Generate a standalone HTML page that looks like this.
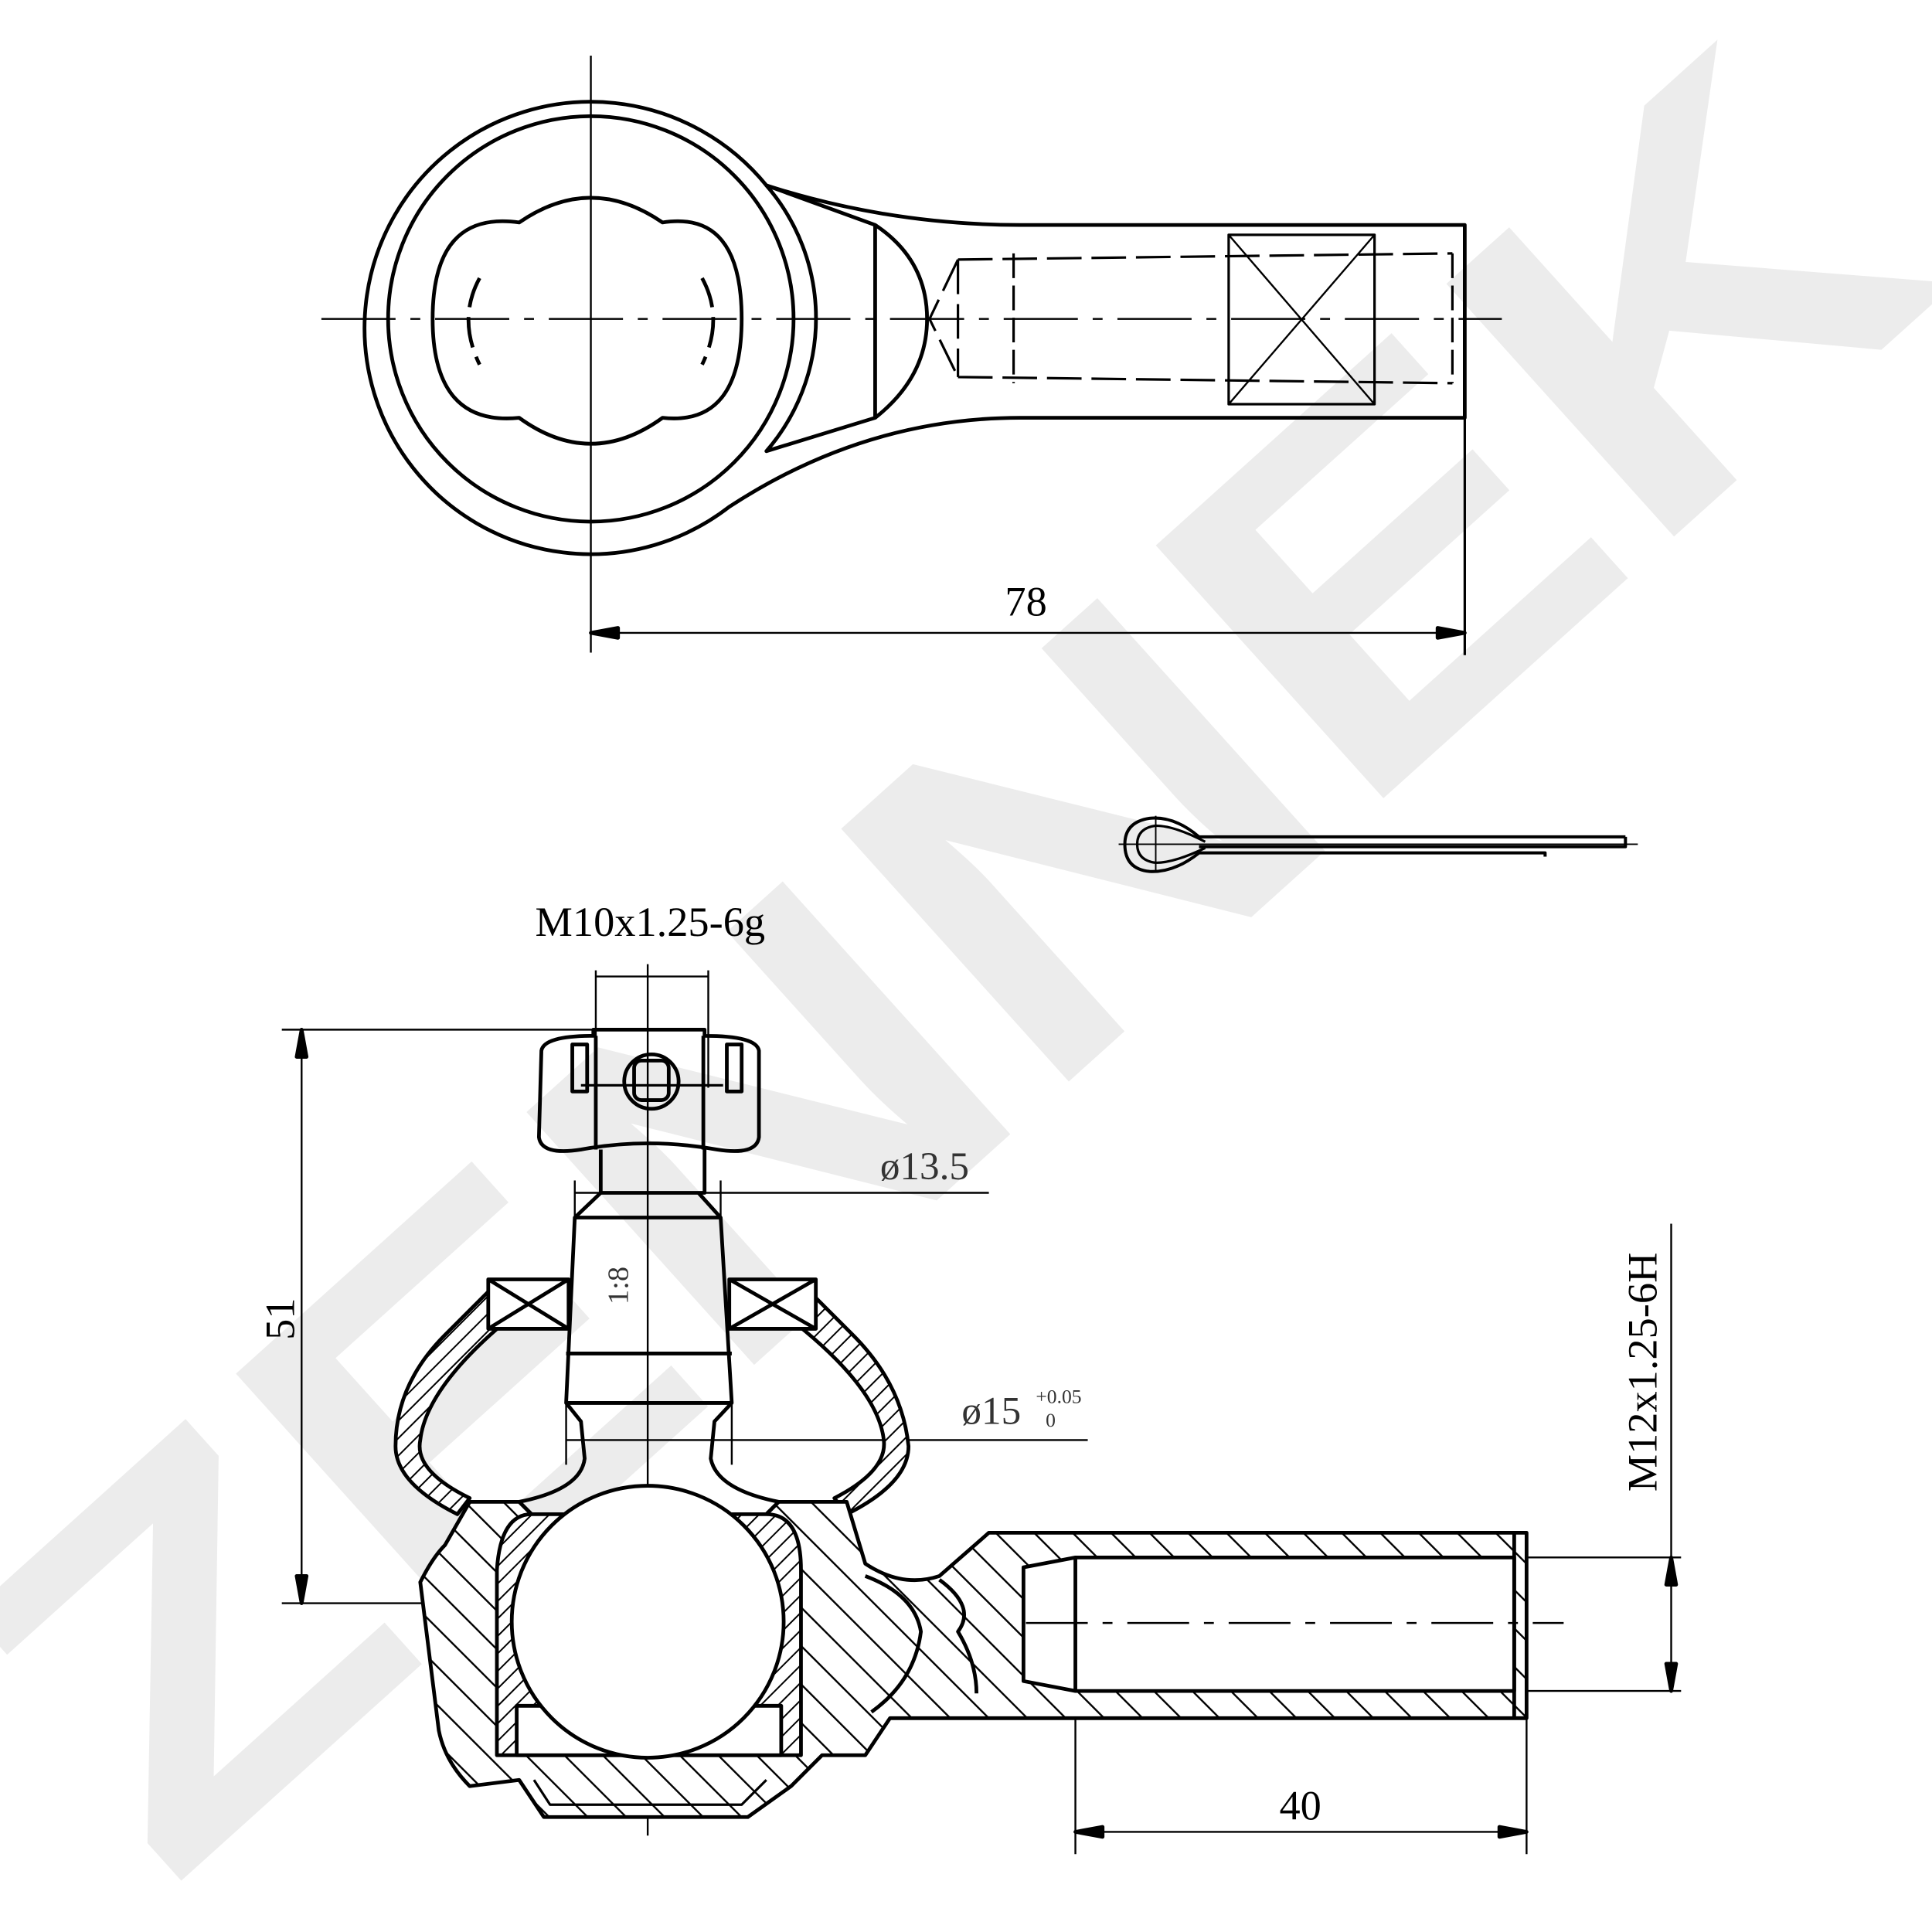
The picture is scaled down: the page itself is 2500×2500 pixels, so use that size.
<!DOCTYPE html>
<html><head><meta charset="utf-8"><style>html,body{margin:0;padding:0;background:#fff}svg{display:block}</style></head>
<body>
<svg width="2500" height="2500" viewBox="0 0 1563 1563" xmlns="http://www.w3.org/2000/svg">
<defs>
<pattern id="h" width="22" height="22" patternUnits="userSpaceOnUse" patternTransform="rotate(-45)">
<rect width="22" height="22" fill="#fff"/><line x1="0" y1="0" x2="0" y2="22" stroke="#000" stroke-width="3"/></pattern>
<pattern id="h2" width="10" height="10" patternUnits="userSpaceOnUse" patternTransform="rotate(45)">
<rect width="10" height="10" fill="#fff"/><line x1="0" y1="0" x2="0" y2="10" stroke="#000" stroke-width="2.5"/></pattern>
</defs>
<rect width="1563" height="1563" fill="#fff"/>
<text x="0" y="0" transform="translate(790,800) rotate(-42)" text-anchor="middle" dominant-baseline="middle" font-family="Liberation Sans, sans-serif" font-weight="bold" font-size="400" fill="#ececec" textLength="1950" lengthAdjust="spacingAndGlyphs">ZENNEK</text>

<g fill="none" stroke="#000" stroke-width="3" stroke-linejoin="round">
<line x1="478" y1="45" x2="478" y2="528" stroke-width="1.5"/>
<line x1="260" y1="258" x2="1215" y2="258" stroke-width="1.5" stroke-dasharray="60,12,8,12"/>
<path d="M590 410 A183 183 0 1 1 620 150 Q720 182 825 182 L1185 182 L1185 338 L825 338 Q700 338 590 410 Z"/>
<circle cx="478" cy="258" r="164"/>
<path d="M620 150 L708 182 L708 338 L620 365 A164 164 0 0 0 620 150 Z"/>
<path d="M708 182 Q750 210 750 258 Q750 305 708 338"/>
<path d="M420 180 Q478 140 536 180 Q600 170 600 258 Q600 345 536 338 Q478 380 420 338 Q350 345 350 258 Q350 170 420 180 Z"/>
<path d="M388 225 Q370 258 388 295" stroke-dasharray="25,8"/>
<path d="M568 225 Q586 258 568 295" stroke-dasharray="25,8"/>
<path d="M775 210 L1175 205 M775 305 L1175 310 M775 210 L752 258 L775 305 M775 210 L775 305" stroke-dasharray="28,8" stroke-width="2"/>
<path d="M820 205 L820 310 M1175 205 L1175 310" stroke-dasharray="20,6" stroke-width="2"/>
<rect x="994" y="190" width="118" height="137" stroke-width="2"/>
<path d="M994 190 L1112 327 M1112 190 L994 327" stroke-width="1.5"/>
<line x1="1185" y1="338" x2="1185" y2="530" stroke-width="2"/>
<line x1="478" y1="512" x2="1185" y2="512" stroke-width="1.5"/>
<path d="M478 512 l22 -4 l0 8 z M1185 512 l-22 -4 l0 8 z" fill="#000"/>

<path d="M1315 677 L970 677 Q950 660 930 662 Q910 665 910 683 Q910 703 930 705 Q950 706 970 690 L1250 690 L1250 693 M1315 677 L1315 685 L970 685" stroke-width="2.5"/>
<path d="M975 681 Q950 668 935 668 Q920 670 920 683 Q920 696 935 698 Q950 698 975 686" stroke-width="2"/>
<line x1="905" y1="683" x2="1325" y2="683" stroke-width="1.2"/>
<line x1="935" y1="660" x2="935" y2="706" stroke-width="1.2"/>

<line x1="524" y1="780" x2="524" y2="1485" stroke-width="1.5"/>
<line x1="228" y1="833" x2="560" y2="833" stroke-width="1.5"/>
<line x1="228" y1="1297" x2="540" y2="1297" stroke-width="1.5"/>
<line x1="244" y1="833" x2="244" y2="1297" stroke-width="1.5"/>
<path d="M244 833 l-4 22 l8 0 z M244 1297 l-4 -22 l8 0 z" fill="#000"/>
<line x1="482" y1="785" x2="482" y2="880" stroke-width="1.5"/>
<line x1="573" y1="785" x2="573" y2="880" stroke-width="1.5"/>
<line x1="482" y1="790" x2="573" y2="790" stroke-width="1.5"/>
<path d="M438 850 Q440 838 480 838 L480 833 L570 833 L570 838 Q612 838 614 850 L614 920 Q612 935 580 930 Q524 920 470 930 Q438 935 436 920 Z"/>
<path d="M482 838 L482 930 M569 838 L569 930" />
<rect x="463" y="845" width="12" height="38"/><rect x="588" y="845" width="12" height="38"/>
<circle cx="527" cy="875" r="22"/><rect x="513" y="858" width="28" height="32" rx="6"/>
<line x1="470" y1="878" x2="585" y2="878" stroke-width="2"/>
<path d="M486 930 L486 965 L570 965 L570 930"/>
<path d="M486 965 L465 985 L583 985 L565 965 M465 985 L458 1135 L592 1135 L583 985"/>
<line x1="458" y1="1095" x2="592" y2="1095"/>
<path d="M458 1135 L470 1150 L473 1180 Q470 1205 420 1215 L430 1225 M592 1135 L578 1150 L575 1180 Q580 1205 630 1215 L620 1225"/>
<line x1="465" y1="965" x2="800" y2="965" stroke-width="1.5"/>
<line x1="465" y1="955" x2="465" y2="990" stroke-width="1.5"/><line x1="583" y1="955" x2="583" y2="990" stroke-width="1.5"/>
<line x1="458" y1="1165" x2="880" y2="1165" stroke-width="1.5"/>
<line x1="458" y1="1135" x2="458" y2="1185" stroke-width="1.5"/><line x1="592" y1="1135" x2="592" y2="1185" stroke-width="1.5"/>
<path d="M400 1040 L360 1080 Q320 1120 320 1170 Q320 1200 370 1225 L380 1212 Q335 1190 340 1165 Q345 1120 420 1060 Z" fill="url(#h2)"/>
<path d="M650 1040 L690 1080 Q730 1120 735 1170 Q735 1200 685 1225 L675 1212 Q718 1190 715 1165 Q710 1120 630 1060 Z" fill="url(#h2)"/>
<path d="M395 1035 L460 1035 L460 1075 L395 1075 Z M395 1035 L460 1075 M460 1035 L395 1075" fill="#fff"/>
<path d="M590 1035 L660 1035 L660 1075 L590 1075 Z M590 1035 L660 1075 M660 1035 L590 1075" fill="#fff"/>
<path d="M380 1215 L420 1215 L430 1225 L620 1225 L630 1215 L685 1215 L700 1265 Q730 1285 760 1275 L800 1240 L1235 1240 L1235 1390 L720 1390 L700 1420 L665 1420 L640 1445 L605 1470 L440 1470 L420 1440 L380 1445 Q360 1425 355 1400 L340 1280 Q350 1260 360 1250 Z" fill="url(#h)"/>
<path d="M700 1275 Q740 1290 745 1320 Q740 1360 705 1385" stroke-width="3"/>
<path d="M760 1278 Q790 1300 775 1320 Q790 1345 790 1370" stroke-width="3"/>
<path d="M402 1270 Q405 1225 430 1225 L620 1225 Q648 1225 648 1270 L648 1420 L402 1420 Z" fill="url(#h2)"/>
<path d="M418 1380 L418 1420 L632 1420 L632 1380 Z" fill="#fff"/>
<circle cx="524" cy="1312" r="110" fill="#fff"/>
<path d="M828 1268 L870 1260 L1225 1260 L1225 1368 L870 1368 L828 1360 Z" fill="#fff"/>
<line x1="870" y1="1260" x2="870" y2="1368"/>
<line x1="1225" y1="1240" x2="1225" y2="1390"/>
<path d="M432 1440 L445 1460 L600 1460 L620 1440" stroke-width="2"/>
<line x1="830" y1="1313" x2="1265" y2="1313" stroke-width="1.5" stroke-dasharray="50,12,8,12"/>
<line x1="1235" y1="1260" x2="1360" y2="1260" stroke-width="1.5"/>
<line x1="1235" y1="1368" x2="1360" y2="1368" stroke-width="1.5"/>
<line x1="1352" y1="990" x2="1352" y2="1368" stroke-width="1.5"/>
<path d="M1352 1260 l-4 22 l8 0 z M1352 1368 l-4 -22 l8 0 z" fill="#000"/>
<line x1="870" y1="1390" x2="870" y2="1500" stroke-width="1.5"/>
<line x1="1235" y1="1390" x2="1235" y2="1500" stroke-width="1.5"/>
<line x1="870" y1="1482" x2="1235" y2="1482" stroke-width="1.5"/>
<path d="M870 1482 l22 -4 l0 8 z M1235 1482 l-22 -4 l0 8 z" fill="#000"/>
</g>
<g font-family="Liberation Serif, serif" fill="#000">
<text x="830" y="498" font-size="34" text-anchor="middle">78</text>
<text x="526" y="757" font-size="34" text-anchor="middle">M10x1.25-6g</text>
<text x="712" y="954" font-size="32" fill="#333">ø13.5</text>
<text x="778" y="1152" font-size="32" fill="#333">ø15</text>
<text x="838" y="1135" font-size="16" fill="#333">+0.05</text>
<text x="846" y="1154" font-size="16" fill="#333">0</text>
<text x="508" y="1040" font-size="24" fill="#333" transform="rotate(-90 508 1040)" text-anchor="middle">1:8</text>
<text x="238" y="1067" font-size="34" transform="rotate(-90 238 1067)" text-anchor="middle">51</text>
<text x="1340" y="1110" font-size="34" transform="rotate(-90 1340 1110)" text-anchor="middle">M12x1.25-6H</text>
<text x="1052" y="1472" font-size="34" text-anchor="middle">40</text>
</g>
</svg>
</body></html>
